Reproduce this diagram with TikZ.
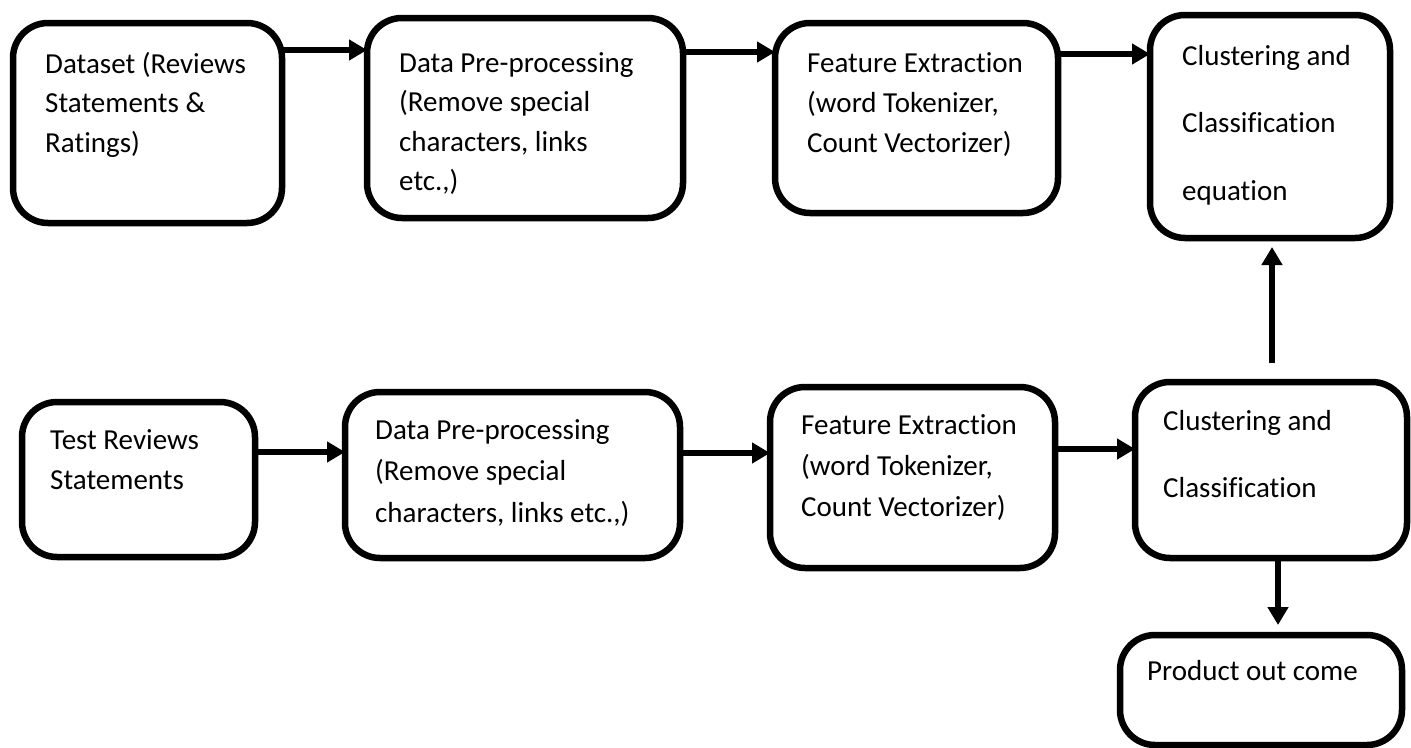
\documentclass[tikz,border=0pt]{standalone}
\usepackage{fontspec}
\setmainfont{Carlito}[Ligatures=NoCommon]
\usetikzlibrary{arrows.meta}
\newcommand\mylines[2]{\parbox[t]{400pt}{\fontsize{29}{#1}\selectfont\raggedright #2}}
\begin{document}
\begin{tikzpicture}[x=1pt,y=-1pt,
  box/.style={draw, line width=6.5pt, rounded corners=35pt, inner sep=0pt, outer sep=0pt},
  arr/.style={line width=6pt, -{Triangle[length=18pt,width=20pt]}},
  lbl/.style={anchor=base west, inner sep=0pt}]
\useasboundingbox (0,0) rectangle (1411,747);
% boxes
\node[box, minimum width=269pt, minimum height=200pt] (b1) at (147.5,123) {};
\node[box, minimum width=316pt, minimum height=200pt] (b2) at (525,118) {};
\node[box, minimum width=283pt, minimum height=190pt] (b3) at (916.5,118) {};
\node[box, minimum width=240pt, minimum height=223pt] (b4) at (1270,126.5) {};
\node[box, minimum width=233pt, minimum height=155pt] (b5) at (138.5,479.5) {};
\node[box, minimum width=335pt, minimum height=166pt] (b6) at (512.5,475) {};
\node[box, minimum width=285pt, minimum height=181pt] (b7) at (912.5,477.5) {};
\node[box, minimum width=272pt, minimum height=176pt] (b8) at (1271,470) {};
\node[box, minimum width=282pt, minimum height=110pt] (b9) at (1261,690) {};
% texts
\node[lbl] (t1) at (45,73) {\mylines{39.5}{Dataset (Reviews\\Statements \&\\Ratings)}};
\node[lbl] (t2) at (399,72) {\mylines{39.5}{Data Pre-processing\\(Remove special\\characters, links\\etc.,)}};
\node[lbl] (t3) at (807,72) {\mylines{40}{Feature Extraction\\(word Tokenizer,\\Count Vectorizer)}};
\node[lbl] (t4) at (1182,65) {\mylines{67.5}{Clustering and\\Classification\\equation}};
\node[lbl] (t5) at (50,449) {\mylines{40}{Test Reviews\\Statements}};
\node[lbl] (t6) at (375,439) {\mylines{41.5}{Data Pre-processing\\(Remove special\\characters, links etc.,)}};
\node[lbl] (t7) at (801,434) {\mylines{41}{Feature Extraction\\(word Tokenizer,\\Count Vectorizer)}};
\node[lbl] (t8) at (1163,430) {\mylines{67}{Clustering and\\Classification}};
\node[lbl] (t9) at (1147,680) {\mylines{40}{Product out come}};
% arrow levels
\coordinate (ya) at (0,50);
\coordinate (yb) at (0,52);
\coordinate (yc) at (0,54);
\coordinate (yd) at (0,452);
\coordinate (ye) at (0,453);
\coordinate (yf) at (0,449);
\coordinate (xu) at (1272,0);
\coordinate (xd) at (1278,0);
% connectors
\draw[arr] (b1.east |- ya) -- (b2.west |- ya);
\draw[arr] (b2.east |- yb) -- (b3.west |- yb);
\draw[arr] (b3.east |- yc) -- (b4.west |- yc);
\draw[arr] (b5.east |- yd) -- (b6.west |- yd);
\draw[arr] (b6.east |- ye) -- (b7.west |- ye);
\draw[arr] (b7.east |- yf) -- (b8.west |- yf);
\draw[arr, shorten <=19pt, shorten >=9pt] (b8.north -| xu) -- (b4.south -| xu);
\draw[arr, shorten >=10pt] (b8.south -| xd) -- (b9.north -| xd);
\end{tikzpicture}
\end{document}
